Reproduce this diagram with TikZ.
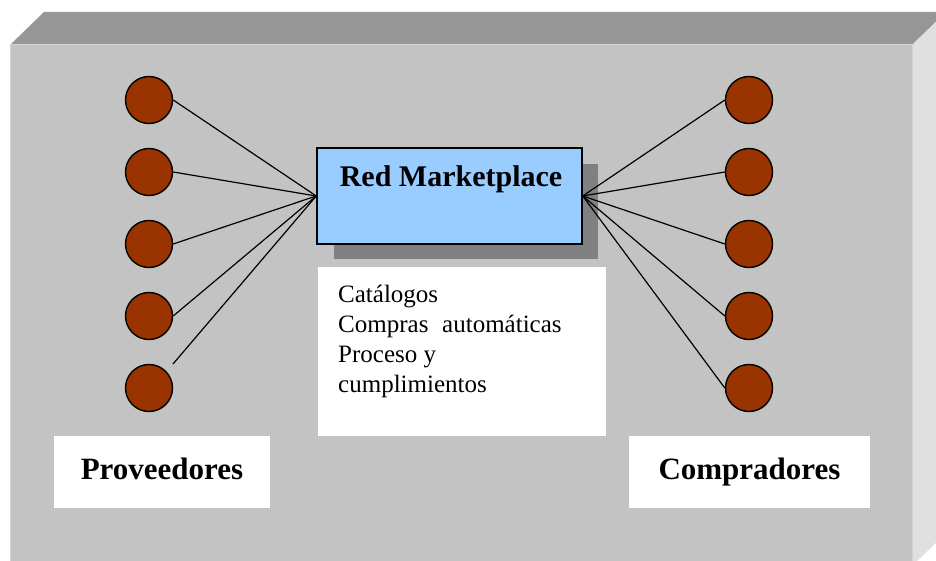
\documentclass[tikz,border=0pt]{standalone}
\usepackage{fontspec}
\setmainfont{Liberation Serif}
\definecolor{frontface}{HTML}{C3C3C3}
\definecolor{topface}{HTML}{969696}
\definecolor{sideface}{HTML}{E0E0E0}
\definecolor{edgelight}{HTML}{D2D2D2}
\definecolor{partycol}{HTML}{993300}
\definecolor{netblue}{HTML}{99CCFF}
\definecolor{shadowgray}{HTML}{808080}

\begin{document}
\begin{tikzpicture}[x=1pt,y=-1pt,
  party/.style={circle, draw=black, line width=1.4pt, fill=partycol,
    minimum size=47pt, inner sep=0pt},
  link/.style={draw=black, line width=1.2pt},
  netbox/.style={rectangle, draw=black, line width=1.5pt, fill=netblue,
    minimum width=265pt, minimum height=96pt, inner sep=0pt},
  whitebox/.style={rectangle, fill=white, inner sep=0pt},
  biglabel/.style={font=\fontsize{30}{36}\selectfont\bfseries},
  labelbox/.style={whitebox, font=\fontsize{31}{36}\selectfont\bfseries,
    minimum height=72pt, text height=21pt, text depth=7pt}]
\useasboundingbox (0,0) rectangle (936,561);

% raised slab: top, right side and front face
\begin{scope}
  \clip (0,0) rectangle (936,561);
  \fill[topface] (10,45) -- (44,12) -- (946,12) -- (912,45) -- cycle;
  \fill[sideface] (912,45) -- (946,12) -- (946,533) -- (912,566) -- cycle;
  \fill[frontface] (10,45) rectangle (912,566);
  \draw[edgelight, line width=1pt] (10,566) -- (10,45) -- (912,45) -- (912,566);
\end{scope}

% central marketplace box with its drop shadow
\fill[shadowgray] (334,164) rectangle (598,259);
\node[netbox] (net) at (449.5,196) {};
\node[biglabel, anchor=base, inner sep=0pt] (netlabel) at (451,187) {Red Marketplace};

% suppliers and buyers
\foreach \i/\y in {1/100,2/172,3/244,4/316,5/388} {
  \node[party] (p\i) at (149,\y) {};
  \node[party] (c\i) at (749,\y) {};
}

% connectors
\foreach \i in {1,...,4} \draw[link] (p\i.east) -- (net.west);
\coordinate (p5end) at (173,364);
\draw[link] (p5end) -- (net.west);
\foreach \i in {1,...,5} \draw[link] (net.east) -- (c\i.west);

% services list
\node[whitebox, minimum width=288pt, minimum height=169pt] (services) at (462,351.5) {};
\node[anchor=north west, align=left, inner sep=0pt,
  font=\fontsize{25}{30}\selectfont] (servicestext) at (338,285)
  {Catálogos\\Compras\hspace{0.3em} automáticas\\Proceso y\\cumplimientos};

% group labels
\node[labelbox, minimum width=216pt] (prov) at (162,472) {Proveedores};
\node[labelbox, minimum width=241pt] (comp) at (749.5,472) {Compradores};
\end{tikzpicture}
\end{document}
